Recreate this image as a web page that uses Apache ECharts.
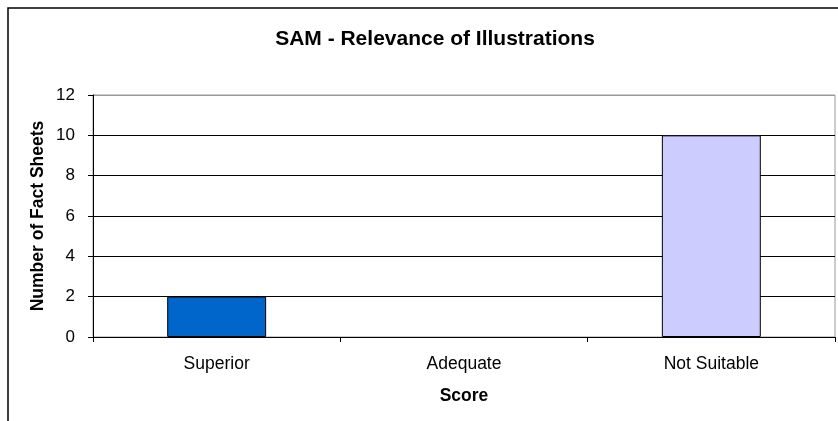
<!DOCTYPE html>
<html>
<head>
<meta charset="utf-8">
<title>SAM - Relevance of Illustrations</title>
<script src="https://cdn.jsdelivr.net/npm/echarts@6/dist/echarts.min.js"></script>
<style>
  html, body { margin: 0; padding: 0; background: #fff; }
  #chart { width: 838px; height: 421px; }
</style>
</head>
<body>
<div id="chart"></div>
<script>
// data
const categories = ['Superior', 'Adequate', 'Not Suitable']
const factSheets = [2, 0, 10]
const barColors = ['#0066CC', '#CCCCFF', '#CCCCFF']
const yTicks = { min: 0, max: 12, interval: 2 }

const font = '"Liberation Sans", Arial, sans-serif'

const chart = echarts.init(document.getElementById('chart'))
chart.setOption({
  animation: false,
  backgroundColor: '#fff',
  textStyle: { fontFamily: font },
  title: {
    text: 'SAM - Relevance of Illustrations',
    left: 430,
    top: 24,
    textAlign: 'center',
    textStyle: { fontFamily: font, fontSize: 21, fontWeight: 'bold', color: '#000' }
  },
  // outer chart frame (runs off the right/bottom edge like the original)
  graphic: [{
    type: 'rect',
    shape: { x: 8, y: 8, width: 860, height: 440 },
    style: { fill: null, stroke: '#000', lineWidth: 1.5 },
    silent: true,
    z: -1
  }],
  grid: {
    left: 93,
    right: 3,
    top: 95,
    bottom: 84,
    show: true,
    borderColor: '#999',
    borderWidth: 1,
    backgroundColor: '#fff'
  },
  xAxis: {
    type: 'category',
    data: categories,
    name: 'Score',
    nameLocation: 'middle',
    nameGap: 50,
    nameMoveOverlap: false,
    nameTextStyle: { fontFamily: font, fontSize: 17.5, fontWeight: 'bold', color: '#000' },
    axisLine: { lineStyle: { color: '#000', width: 1 } },
    axisTick: { show: true, alignWithLabel: false, length: 5, lineStyle: { color: '#000' } },
    axisLabel: { fontFamily: font, fontSize: 17.5, color: '#000', margin: 18 },
    splitLine: { show: false }
  },
  yAxis: {
    type: 'value',
    min: yTicks.min,
    max: yTicks.max,
    interval: yTicks.interval,
    name: 'Number of Fact Sheets',
    nameLocation: 'middle',
    nameGap: 46,
    nameMoveOverlap: false,
    nameTextStyle: { fontFamily: font, fontSize: 17.5, fontWeight: 'bold', color: '#000' },
    axisLine: { show: true, lineStyle: { color: '#000', width: 1 } },
    axisTick: { show: true, length: 5, lineStyle: { color: '#000' } },
    axisLabel: { fontFamily: font, fontSize: 17, color: '#000', margin: 18 },
    splitLine: {
      show: true,
      lineStyle: { color: ['#000', '#000', '#000', '#000', '#000', '#000', '#999'], width: 1 }
    }
  },
  series: [{
    type: 'bar',
    barWidth: '40%',
    data: factSheets.map((v, i) => ({
      value: v,
      itemStyle: { color: barColors[i], borderColor: '#000', borderWidth: v ? 1 : 0 }
    }))
  }]
})
</script>
</body>
</html>
